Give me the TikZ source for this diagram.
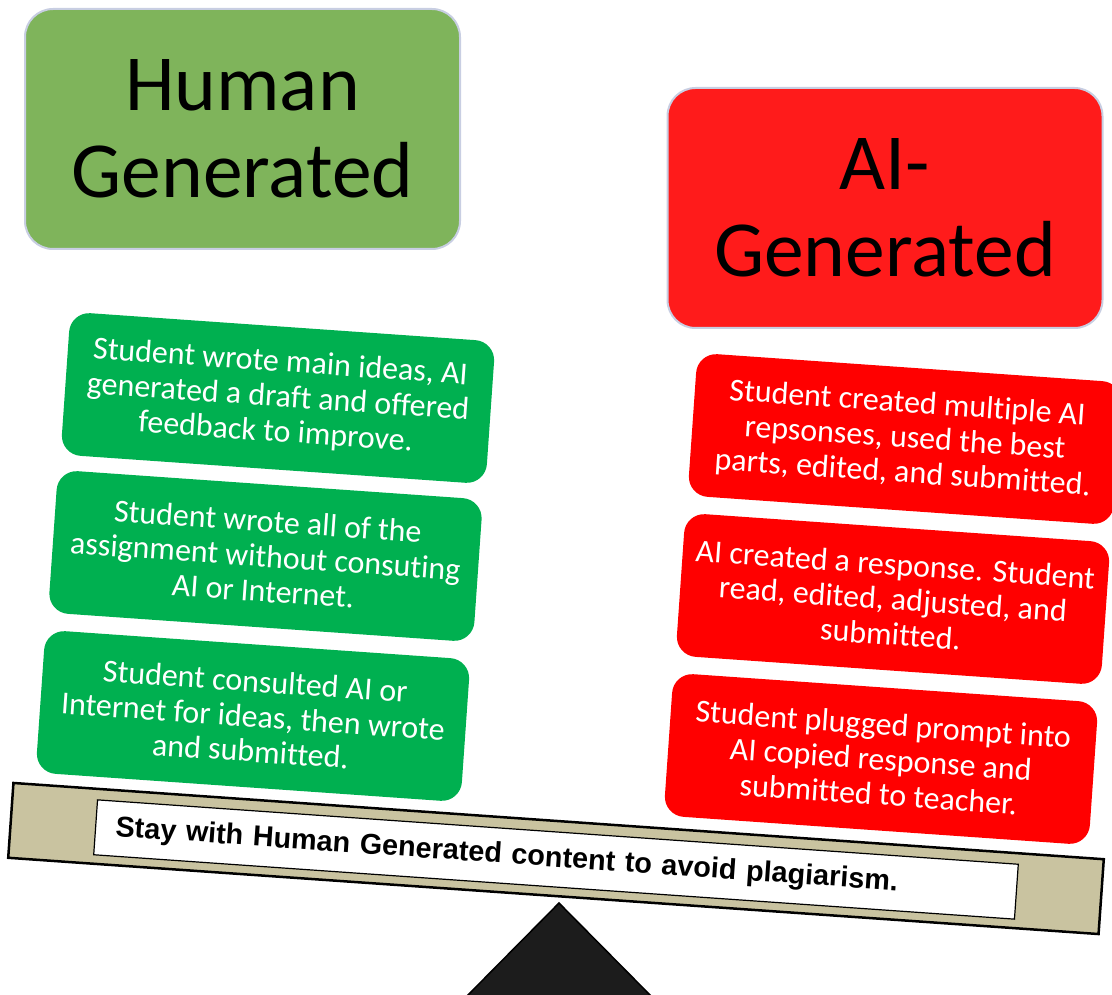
\documentclass[tikz,border=0pt]{standalone}
\usepackage{fontspec}
\setmainfont{Carlito}[Ligatures=NoCommon]
\newfontfamily\arialfont{Liberation Sans}
\definecolor{hgreen}{HTML}{7FB45B}
\definecolor{hred}{HTML}{FF1B1B}
\definecolor{hborder}{HTML}{C8CEE2}
\definecolor{cgreen}{HTML}{00B050}
\definecolor{cred}{HTML}{FF0000}
\definecolor{beamtan}{HTML}{C9C3A0}
\definecolor{fulcrum}{HTML}{1C1C1C}
\begin{document}
\begin{tikzpicture}[x=1pt,y=1pt,
  header/.style={draw=hborder, line width=2pt, rounded corners=28pt,
    minimum width=435pt, minimum height=240pt, align=center,
    font=\fontsize{79.5}{87}\selectfont, inner sep=0pt},
  card/.style={rounded corners=20pt, minimum width=426pt, minimum height=143pt,
    align=center, text=white, font=\fontsize{32}{35}\selectfont,
    rotate=-4, inner sep=0pt},
  gcard/.style={card, fill=cgreen},
  rcard/.style={card, fill=cred}]
\useasboundingbox (0,0) rectangle (1112,-995);
% headers
\node[header, fill=hgreen] (hg) at (242.5,-129) {Human\\Generated};
\node[header, fill=hred] (ag) at (885,-208) {AI-\\Generated};
% fulcrum
\filldraw[fill=fulcrum, draw=black, line width=1.5pt]
  (559,-903) -- (652,-997) -- (466,-997) -- cycle;
% beam
\node[draw=black, line width=2.5pt, fill=beamtan, minimum width=1093pt,
  minimum height=75pt, rotate=-4, inner sep=0pt] (beam) at (556,-858.5) {};
\node[draw=black, line width=1.2pt, fill=white, minimum height=55pt,
  text width=883pt, inner xsep=20pt, inner ysep=0pt, align=left, rotate=-4,
  font=\arialfont\bfseries\fontsize{28.8}{34}\selectfont] (msg) at (556,-859.5)
  {Stay with Human Generated content to avoid plagiarism.};
% green cards
\node[gcard] (g1) at (278,-398) {Student wrote main ideas, AI\\generated a draft and offered\\feedback to improve.};
\node[gcard] (g2) at (265.5,-556) {Student wrote all of the\\assignment without consuting\\AI or Internet.};
\node[gcard] (g3) at (253,-716) {Student consulted AI or\\Internet for ideas, then wrote\\and submitted.};
% red cards
\node[rcard] (r1) at (905,-439) {Student created multiple AI\\repsonses, used the best\\parts, edited, and submitted.};
\node[rcard] (r2) at (893,-599) {AI created a response. Student\\read, edited, adjusted, and\\submitted.};
\node[rcard] (r3) at (881,-759) {Student plugged prompt into\\AI copied response and\\submitted to teacher.};
\end{tikzpicture}
\end{document}
